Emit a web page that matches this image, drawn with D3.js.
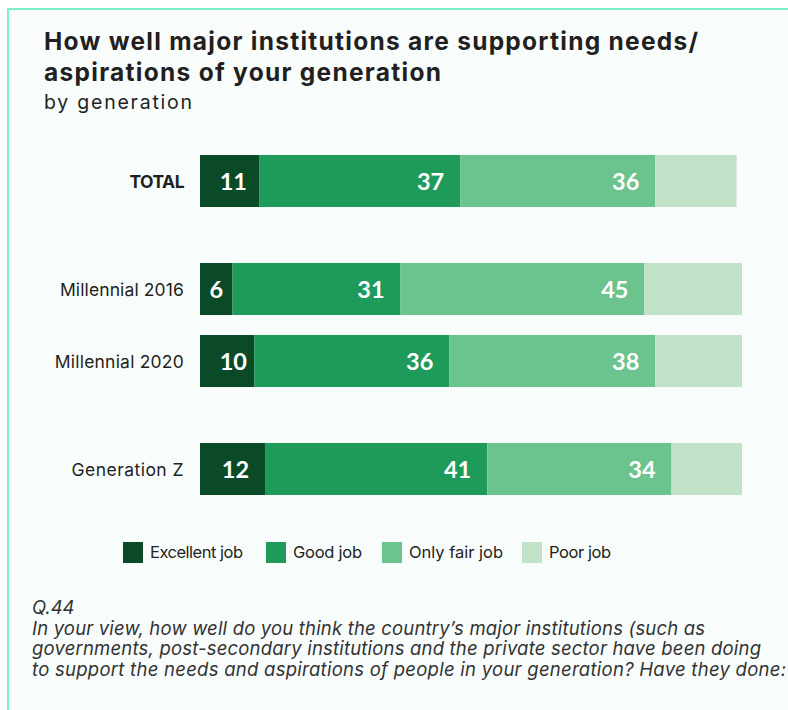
<!DOCTYPE html>
<html><head><meta charset="utf-8">
<script src="https://cdn.jsdelivr.net/npm/d3@7"></script>
<style>
html,body{margin:0;padding:0;background:#fff;}
svg{display:block;}
</style></head>
<body>
<script>
const categories = ["TOTAL", "Millennial 2016", "Millennial 2020", "Generation Z"];
const rowSlots = [0, 3, 5, 8];
const seriesNames = ["Excellent job", "Good job", "Only fair job", "Poor job"];
const excellent = [11, 6, 10, 12];
const good = [37, 31, 36, 41];
const fair = [36, 45, 38, 34];
const poor = [15, 18, 16, 13];
const showLabel = [true, true, true, false];
const colors = ["#0b4a26", "#1e9b5a", "#6bc38e", "#c2e2c7"];
const titleLines = ["How well major institutions are supporting needs/", "aspirations of your generation"];
const subtitle = "by generation";
const noteLines = ["Q.44",
 "In your view, how well do you think the country\u2019s major institutions (such as",
 "governments, post-secondary institutions and the private sector have been doing",
 "to support the needs and aspirations of people in your generation? Have they done:"];

const W = 788, H = 710;
const FONT = "Inter, Lato, sans-serif";
const NUMFONT = "Lato, sans-serif";
const svg = d3.select("body").append("svg").attr("width", W).attr("height", H);

// stretch/condense text to the measured width only through letter spacing
function fit(sel, widths) {
  sel.each(function(d, i) {
    if (widths[i] == null) return;
    const el = d3.select(this);
    const n = this.getNumberOfChars();
    const w = this.getComputedTextLength();
    el.attr("letter-spacing", n > 1 ? (widths[i] - w) / (n - 1) : 0);
  });
}

svg.append("rect").attr("x", 8).attr("y", 9).attr("width", W).attr("height", H)
  .attr("fill", "#f8fdfc").attr("stroke", "#7cf0c8").attr("stroke-width", 2);

// title
svg.append("g").selectAll("text").data(titleLines).join("text")
  .attr("x", 44).attr("y", (d, i) => 50 + i * 31)
  .attr("font-family", FONT).attr("font-weight", 700).attr("font-size", 24.5)
  .attr("fill", "#231f20").text(d => d)
  .call(fit, [654, 397]);
svg.append("text").datum(subtitle).attr("x", 44).attr("y", 109)
  .attr("font-family", FONT).attr("font-size", 19.5)
  .attr("fill", "#231f20").text(d => d)
  .call(fit, [148]);

const x = d3.scaleLinear().domain([0, 100]).range([200, 742]);
const y = d3.scaleLinear().domain([0, 8]).range([155, 443]);
const barH = 52;

const values = [excellent, good, fair, poor];
const stackData = categories.map((c, i) => {
  const o = { cat: c, slot: rowSlots[i] };
  seriesNames.forEach((s, k) => o[s] = values[k][i]);
  return o;
});
const stacked = d3.stack().keys(seriesNames)(stackData);

const g = svg.append("g");
stacked.forEach((layer, k) => {
  const lg = g.append("g");
  lg.selectAll("rect").data(layer).join("rect")
    .attr("x", d => x(d[0])).attr("width", d => x(d[1]) - x(d[0]))
    .attr("y", d => y(d.data.slot)).attr("height", barH)
    .attr("fill", colors[k]);
  if (showLabel[k]) {
    lg.selectAll("text").data(layer).join("text")
      .each(function(d) {
        const x0 = x(d[0]), x1 = x(d[1]);
        const el = d3.select(this);
        if (x1 - x0 < 40) el.attr("x", (x0 + x1) / 2).attr("text-anchor", "middle");
        else el.attr("x", Math.max(x1 - 16, x0 + 47)).attr("text-anchor", "end");
      })
      .attr("y", d => y(d.data.slot) + barH / 2 + 8.5)
      .attr("font-family", NUMFONT).attr("font-weight", 700).attr("font-size", 23.5)
      .attr("fill", "#fff").text(d => d[1] - d[0]);
  }
});

// category labels
svg.append("g").selectAll("text").data(categories).join("text")
  .attr("x", 184).attr("y", (d, i) => y(rowSlots[i]) + barH / 2 + 6.5)
  .attr("text-anchor", "end").attr("font-family", FONT)
  .attr("font-weight", (d, i) => i === 0 ? 700 : 400).attr("font-size", 17.5)
  .attr("fill", "#231f20").text(d => d)
  .call(fit, [55, 124, 129, 112]);

// legend
const legendX = [123, 266, 382, 522];
const legendW = [93, 69, 94, 62];
const lgG = svg.append("g");
seriesNames.forEach((s, k) => {
  lgG.append("rect").attr("x", legendX[k]).attr("y", 542).attr("width", 20).attr("height", 21).attr("fill", colors[k]);
  lgG.append("text").datum(s).attr("x", legendX[k] + 27).attr("y", 558)
    .attr("font-family", FONT).attr("font-size", 16.5)
    .attr("fill", "#231f20").text(s)
    .call(fit, [legendW[k]]);
});

// notes
svg.append("g").selectAll("text").data(noteLines).join("text")
  .attr("x", 32).attr("y", (d, i) => 614 + i * 20.7)
  .attr("font-family", FONT).attr("font-style", "italic").attr("font-size", 18.5)
  .attr("fill", "#333").text(d => d)
  .call(fit, [null, 673, 729, 754]);
</script>
</body></html>
